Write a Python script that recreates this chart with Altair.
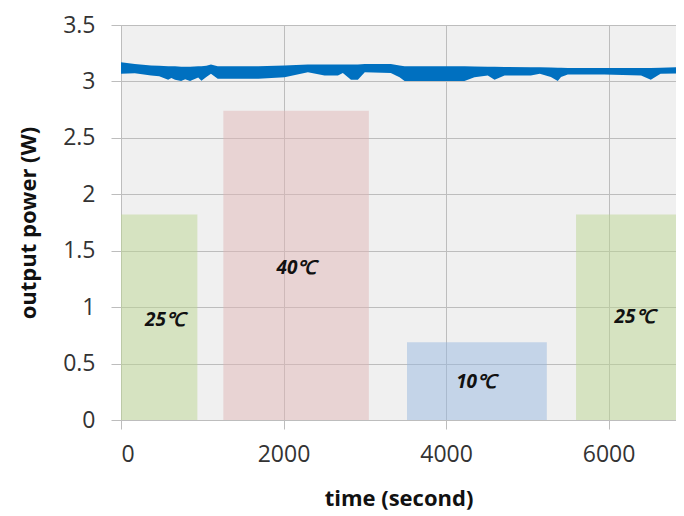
import altair as alt
import pandas as pd

# ---- data ----
time_s = [0, 170, 370, 470, 580, 620, 665, 740, 790, 850, 950, 990, 1050, 1107, 1190,
          1690, 2013, 2300, 2505, 2670, 2730, 2830, 2915, 3000, 3320, 3428, 3490, 4227,
          4350, 4514, 4597, 4720, 5043, 5154, 5290, 5375, 5415, 5498, 5950, 6400, 6520,
          6640, 6830]
power_upper = [3.170, 3.155, 3.141, 3.138, 3.135, 3.135, 3.135, 3.130, 3.130, 3.130,
               3.135, 3.135, 3.140, 3.150, 3.135, 3.135, 3.141, 3.150, 3.150, 3.150,
               3.150, 3.150, 3.150, 3.155, 3.155, 3.141, 3.135, 3.135, 3.133, 3.130,
               3.130, 3.128, 3.126, 3.126, 3.124, 3.122, 3.122, 3.120, 3.120, 3.120,
               3.120, 3.122, 3.126]
power_lower = [3.067, 3.073, 3.053, 3.045, 3.014, 3.030, 3.014, 3.003, 3.020, 3.003,
               3.035, 3.006, 3.040, 3.067, 3.023, 3.023, 3.038, 3.082, 3.053, 3.053,
               3.075, 3.014, 3.014, 3.082, 3.075, 3.038, 3.003, 3.003, 3.038, 3.053,
               3.014, 3.053, 3.053, 3.067, 3.040, 3.003, 3.040, 3.062, 3.062, 3.053,
               3.014, 3.067, 3.070]

rect_start = [0, 1260, 3520, 5600]
rect_end = [940, 3050, 5240, 6830]
rect_top = [1.82, 2.74, 0.69, 1.82]
rect_color = ["#bcd692", "#e0b6b6", "#98b8e0", "#bcd692"]

label_text = ["25℃", "40℃", "10℃", "25℃"]
label_x = [540, 2160, 4370, 6320]
label_y = [0.89, 1.35, 0.335, 0.91]

x_ticks = [0, 2000, 4000, 6000]
y_ticks = [0, 0.5, 1, 1.5, 2, 2.5, 3, 3.5]

line_df = pd.DataFrame({"t": time_s, "hi": power_upper, "lo": power_lower})
rect_df = pd.DataFrame({"x0": rect_start, "x1": rect_end, "top": rect_top,
                        "bottom": [0] * len(rect_start), "c": rect_color})
lab_df = pd.DataFrame({"x": label_x, "y": label_y, "txt": label_text})

FONT = "Open Sans"
xscale = alt.Scale(domain=[0, 6830], nice=False, zero=False)
yscale = alt.Scale(domain=[0, 3.5], nice=False)

x_axis = alt.Axis(values=x_ticks, title="time (second)", grid=True, gridColor="#bdbdbd",
                  domainColor="#bdbdbd", tickColor="#bdbdbd", tickSize=9,
                  labelPadding=14, labelFontSize=23, labelFont=FONT, labelColor="#333333",
                  titleFont=FONT, titleFontSize=22, titleFontWeight="bold",
                  titleColor="#111111", titlePadding=22, format="d")
y_axis = alt.Axis(values=y_ticks, title="output power (W)", grid=True, gridColor="#bdbdbd",
                  domainColor="#bdbdbd", tickColor="#bdbdbd", tickSize=10,
                  labelPadding=16, labelFontSize=23, labelFont=FONT, labelColor="#333333",
                  titleFont=FONT, titleFontSize=22, titleFontWeight="bold",
                  titleColor="#111111", titlePadding=22, format="~g")

rects = alt.Chart(rect_df).mark_rect(opacity=0.5).encode(
    x=alt.X("x0:Q", scale=xscale, axis=x_axis),
    x2="x1:Q",
    y=alt.Y("bottom:Q", scale=yscale, axis=y_axis),
    y2="top:Q",
    color=alt.Color("c:N", scale=None),
)

band = alt.Chart(line_df).mark_area(color="#0070c0", opacity=1).encode(
    x=alt.X("t:Q", scale=xscale),
    y=alt.Y("hi:Q", scale=yscale),
    y2="lo:Q",
)

labels = alt.Chart(lab_df).mark_text(font=FONT, fontSize=19, fontWeight="bold",
                                     fontStyle="italic", color="#111111").encode(
    x=alt.X("x:Q", scale=xscale),
    y=alt.Y("y:Q", scale=yscale),
    text="txt:N",
)

chart = alt.layer(rects, band, labels).properties(
    width=555, height=395,
    autosize=alt.AutoSizeParams(type="none"),
    padding={"left": 113, "top": 17, "right": 0, "bottom": 92},
).configure_view(fill="#f0f0f0", strokeOpacity=0)

chart.save("out.html", embed_options={"renderer": "svg", "actions": False})
